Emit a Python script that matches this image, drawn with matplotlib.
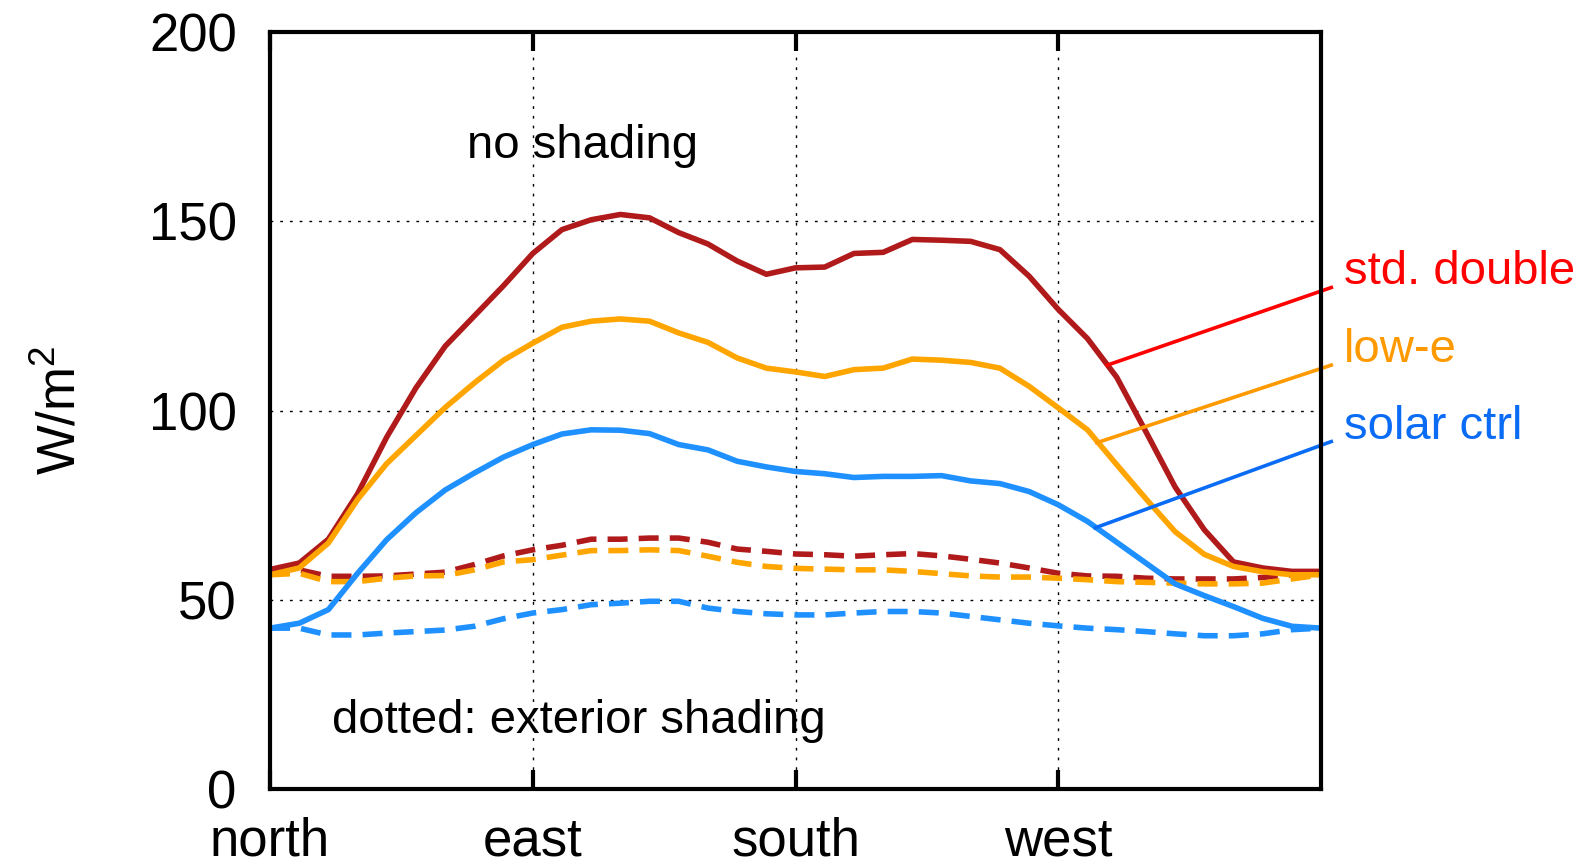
import numpy as np
import matplotlib
matplotlib.use("Agg")
import matplotlib.pyplot as plt

plt.rcParams["font.family"] = ["Liberation Sans", "DejaVu Sans"]
plt.rcParams["mathtext.default"] = "regular"

# orientation of the facade, degrees from north (10 degree steps)
azimuth = np.arange(0, 361, 10)

# mean solar gain, W/m2, no shading
std_double = [58, 59.7, 66, 78, 93, 106, 117, 125, 133, 141.5, 147.8, 150.4, 151.8,
              150.9, 147, 144, 139.5, 136, 137.7, 137.9, 141.5, 141.8, 145.2, 145,
              144.7, 142.5, 135.5, 126.7, 119, 108.8, 94.4, 79.8, 68.5, 60, 58.4, 57.5, 57.5]
low_e = [56.6, 58.4, 65, 76.5, 86, 93.4, 100.8, 107.3, 113.3, 117.8, 122, 123.6, 124.2,
         123.6, 120.5, 118, 113.9, 111.2, 110.2, 109, 110.8, 111.2, 113.6, 113.3,
         112.7, 111.2, 106.4, 100.7, 94.9, 85.7, 76.7, 68, 62, 58.8, 57.4, 56.6, 56.6]
solar_ctrl = [42.5, 43.8, 47.4, 57, 65.9, 73, 79, 83.5, 87.7, 91, 93.8, 94.9, 94.8,
              93.9, 91, 89.6, 86.6, 85.1, 83.9, 83.3, 82.3, 82.6, 82.6, 82.8,
              81.4, 80.7, 78.6, 75.1, 70.7, 65.2, 59.7, 54.2, 51.1, 48.2, 45.1, 43, 42.5]

# same glazings with exterior shading
std_double_shd = [57.9, 57.9, 56.2, 56.2, 56.3, 56.8, 57.3, 59.3, 61.6, 63.2, 64.4, 66, 66,
                  66.3, 66.3, 65.2, 63.4, 62.8, 62.1, 61.9, 61.5, 61.9, 62.2, 61.6,
                  60.7, 59.7, 58.4, 57, 56.3, 56.2, 55.7, 55.5, 55.5, 55.5, 55.9, 56.6, 57]
low_e_shd = [56.6, 57, 54.8, 54.8, 55.7, 56.3, 56.4, 57.9, 60, 60.6, 61.8, 63, 63,
             63.2, 63, 61.5, 59.9, 58.8, 58.3, 58.1, 57.9, 57.9, 57.5, 56.9,
             56.3, 56, 56, 55.7, 55.3, 54.8, 54.6, 54.4, 54.2, 54.2, 54.4, 55.5, 56.6]
solar_ctrl_shd = [42.5, 42.5, 40.7, 40.7, 41.2, 41.6, 42, 43, 45, 46.5, 47.4, 48.7, 49.1,
                  49.6, 49.6, 47.8, 46.9, 46.3, 46, 46, 46.5, 46.9, 46.9, 46.5,
                  45.6, 44.7, 43.8, 43.1, 42.5, 42.1, 41.6, 41, 40.5, 40.5, 41, 42.1, 42.5]

tick_pos = [0, 90, 180, 270]
tick_names = ["north", "east", "south", "west"]

# label leader lines: (start az, start val, end az, end val)
labels = ["std. double", "low-e", "solar ctrl"]
leader_start = [(286.8, 112.0), (283.2, 91.5), (282.6, 69.0)]
leader_end = [(363.5, 132.5), (363.5, 112.0), (363.5, 91.8)]

c_red, c_orange, c_blue = "#B01A1A", "#FFA500", "#1E90FF"
c_lbl = ["#FF0000", "#FF9900", "#0A6CF5"]

fig = plt.figure(figsize=(15.93, 8.66), dpi=100)
ax = fig.add_axes([0.1695, 0.0889, 0.6598, 0.8741])

lw = 4.0
for y, c in [(std_double_shd, c_red), (low_e_shd, c_orange), (solar_ctrl_shd, c_blue)]:
    ax.plot(azimuth, y, color=c, lw=lw, dashes=(3.6, 2))
for y, c in [(std_double, c_red), (low_e, c_orange), (solar_ctrl, c_blue)]:
    ax.plot(azimuth, y, color=c, lw=lw)

for name, (x0, y0), (x1, y1), c in zip(labels, leader_start, leader_end, c_lbl):
    ax.plot([x0, x1], [y0, y1], color=c, lw=2.6, clip_on=False)
    ax.text(367.8, y1 + 0.8, name, color=c, fontsize=34, va="baseline", ha="left")

ax.text(67.4, 166.7, "no shading", fontsize=34, va="baseline")
ax.text(21.2, 14.7, "dotted: exterior shading", fontsize=34, va="baseline")

ax.set_xlim(0, 360)
ax.set_ylim(0, 200)
ax.set_xticks(tick_pos)
ax.set_xticklabels(tick_names)
ax.set_yticks([0, 50, 100, 150, 200])
ax.tick_params(axis="x", direction="in", length=14, width=3, top=True,
               labelsize=38, pad=20)
ax.tick_params(axis="y", length=0, labelsize=38, pad=24)
ax.grid(True, color="black", lw=1.0, linestyle=(0, (2, 5)))
for s in ax.spines.values():
    s.set_linewidth(3)

ax.set_ylabel("W/m$^2$", fontsize=38)
ax.yaxis.set_label_coords(-0.175, 0.5)

fig.savefig("out.png", dpi=100)
